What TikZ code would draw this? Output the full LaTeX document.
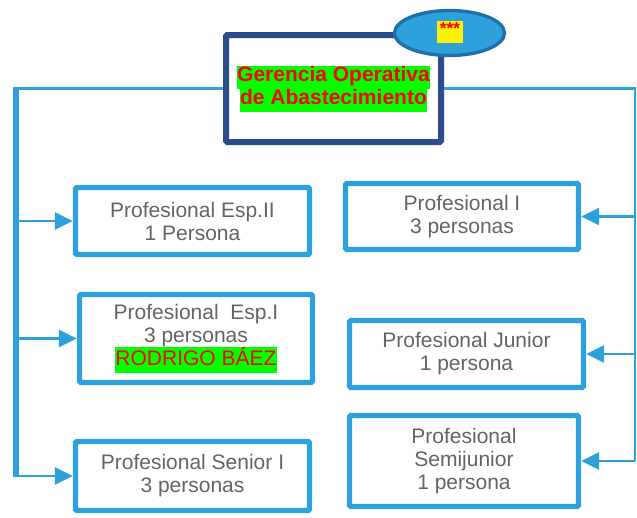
\documentclass[tikz,border=0pt]{standalone}
\usepackage{fontspec}
\setmainfont{Liberation Sans}
\usepackage{xcolor}
\usetikzlibrary{arrows.meta,shapes.geometric}
\definecolor{boxblue}{RGB}{46,160,220}
\definecolor{navyblue}{RGB}{44,76,140}
\definecolor{ovalrim}{RGB}{30,112,168}
\definecolor{hlgreen}{RGB}{0,255,0}
\definecolor{labelgray}{RGB}{100,100,100}
\newcommand{\greenmark}[1]{{\setlength{\fboxsep}{0pt}\colorbox{hlgreen}{\strut #1}}}
\tikzset{
  postbox/.style={draw=boxblue,line width=4pt,rounded corners=1pt,fill=white,text=labelgray,align=center,font=\fontsize{15.75}{17.25}\selectfont},
  headbox/.style={draw=navyblue,line width=4.5pt,rounded corners=1pt,fill=white,text=red,align=center,font=\fontsize{15.75}{17.25}\selectfont\bfseries},
  link/.style={draw=boxblue,line width=2pt},
  branch/.style={link,-{Triangle[length=13.5pt,width=12.75pt]}}
}

\begin{document}
\begin{tikzpicture}[x=0.75pt,y=-0.75pt]
  \useasboundingbox (0,0) rectangle (637,518);
  \node[headbox,minimum width=161.25pt,minimum height=80.25pt] (gerencia) at (333.5,88.5) {\greenmark{Gerencia Operativa}\\\greenmark{de Abastecimiento}};
  \node[ellipse,draw=ovalrim,line width=2.5pt,fill=boxblue,minimum width=82.5pt,minimum height=33.75pt] (badge) at (449.5,33) {};
  \node[fill=yellow,minimum width=19.5pt,minimum height=16.5pt,inner sep=0pt] (mark) at (450,32) {};
  \node[below,inner sep=0pt,text=red,font=\fontsize{13}{13}\selectfont\bfseries] (stars) at ([yshift=-1.5pt]mark.north) {***};
  % left column
  \node[postbox,minimum width=175.5pt,minimum height=50.25pt] (espii) at (192.5,221) {Profesional Esp.II\\1 Persona};
  \node[postbox,minimum width=174.75pt,minimum height=66pt] (espi) at (196,338.5) {Profesional\ \ Esp.I\\3 personas\\\textcolor{red}{\greenmark{RODRIGO BÁEZ}}};
  \node[postbox,minimum width=175.5pt,minimum height=51.75pt] (senior) at (192.5,476) {Profesional Senior I\\3 personas};
  % right column
  \node[postbox,minimum width=174.75pt,minimum height=49.5pt] (profi) at (462,216.5) {Profesional I\\3 personas};
  \node[postbox,minimum width=175.5pt,minimum height=50.25pt] (junior) at (466.5,354) {Profesional Junior\\1 persona};
  \node[postbox,minimum width=171.75pt,minimum height=68.25pt] (semijunior) at (464,461) {Profesional\\Semijunior\\1 persona};
  \coordinate (lbus) at (16,88.5);
  \coordinate (rbus) at (635,88.5);
  \draw[link,shorten >=-2pt] (gerencia.west) -- (lbus);
  \draw[link,line width=4pt,shorten <=-1pt,shorten >=-0.75pt] (lbus) -- (lbus |- senior.west);
  \draw[branch] (lbus |- espii.west) -- (espii.west);
  \draw[branch] (lbus |- espi.west) -- (espi.west);
  \draw[branch] (lbus |- senior.west) -- (senior.west);
  \draw[link] (gerencia.east) -- (rbus);
  \draw[link,line width=1.5pt,shorten <=-1pt] (rbus) -- (rbus |- semijunior.east);
  \draw[branch] (rbus |- profi.east) -- (profi.east);
  \draw[branch] (rbus |- junior.east) -- (junior.east);
  \draw[branch] (rbus |- semijunior.east) -- (semijunior.east);
\end{tikzpicture}
\end{document}
